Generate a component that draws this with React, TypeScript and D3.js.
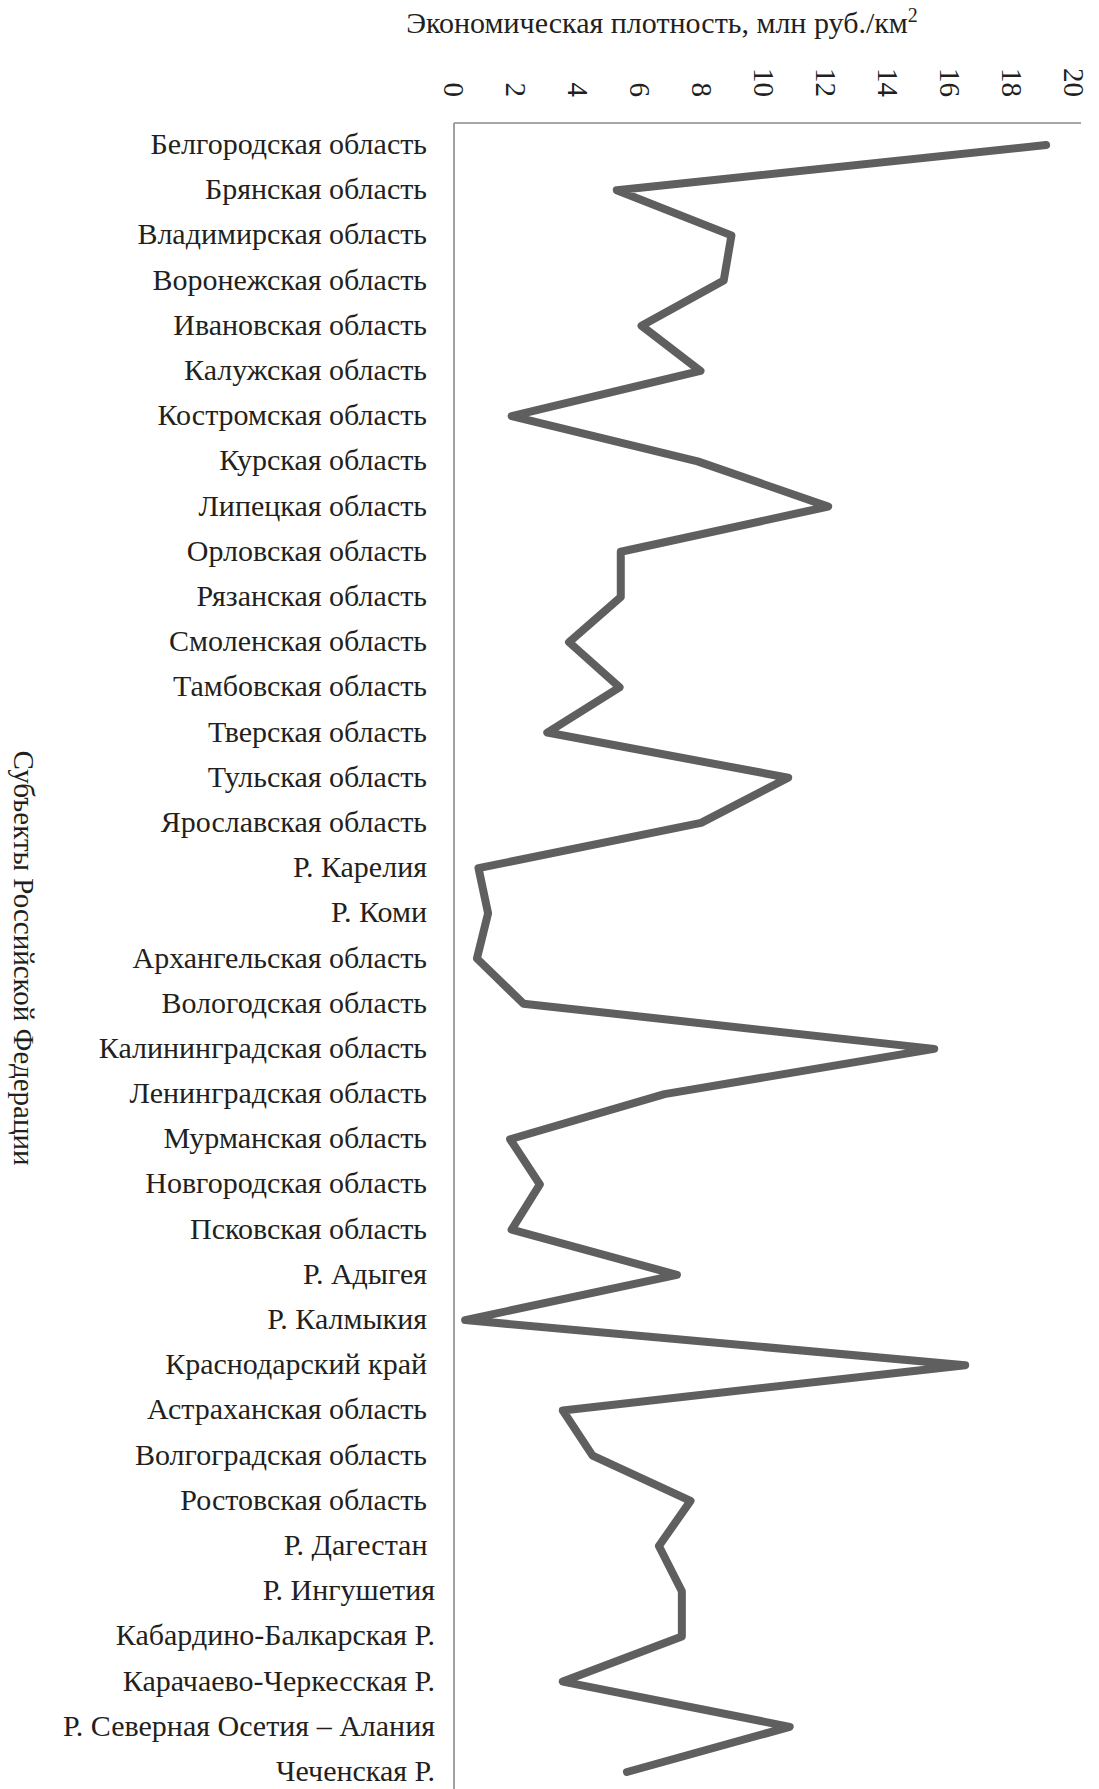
import React from "react";
import * as d3 from "d3";

const categories = [
  "Белгородская область",
  "Брянская область",
  "Владимирская область",
  "Воронежская область",
  "Ивановская область",
  "Калужская область",
  "Костромская область",
  "Курская область",
  "Липецкая область",
  "Орловская область",
  "Рязанская область",
  "Смоленская область",
  "Тамбовская область",
  "Тверская область",
  "Тульская область",
  "Ярославская область",
  "Р. Карелия",
  "Р. Коми",
  "Архангельская область",
  "Вологодская область",
  "Калининградская область",
  "Ленинградская область",
  "Мурманская область",
  "Новгородская область",
  "Псковская область",
  "Р. Адыгея",
  "Р. Калмыкия",
  "Краснодарский край",
  "Астраханская область",
  "Волгоградская область",
  "Ростовская область",
  "Р. Дагестан ",
  "Р. Ингушетия",
  "Кабардино-Балкарская Р.",
  "Карачаево-Черкесская Р.",
  "Р. Северная Осетия – Алания",
  "Чеченская Р.",
];

const values = [
  19.1, 5.25, 8.95, 8.7, 6.05, 7.95, 1.86, 7.86, 12.07, 5.38, 5.38, 3.71, 5.34,
  3.01, 10.78, 7.97, 0.79, 1.1, 0.74, 2.24, 15.49, 6.79, 1.81, 2.77, 1.86, 7.19,
  0.36, 16.49, 3.51, 4.47, 7.63, 6.61, 7.35, 7.35, 3.51, 10.83, 5.58,
];

const xTicks = [0, 2, 4, 6, 8, 10, 12, 14, 16, 18, 20];

const xTitle = "Экономическая плотность, млн руб./км";
const yTitle = "Субъекты Российской Федерации";

const W = 1099;
const H = 1789;
const FONT = "'Liberation Serif', 'Times New Roman', serif";
const TEXT = "#231f20";

export default function App() {
  const x = d3.scaleLinear().domain([0, 20]).range([454, 1074]);
  const y = d3.scalePoint<string>().domain(categories).range([145, 1772]);
  const line = d3
    .line<number>()
    .x((d) => x(d))
    .y((_, i) => y(categories[i]) as number);

  const axisTop = 123;

  return (
    <svg
      width={W}
      height={H}
      style={{ position: "absolute", left: 0, top: 0, background: "#fff" }}
      fontFamily={FONT}
    >
      <rect x={0} y={0} width={W} height={H} fill="#fff" />
      <text x={662} y={33} textAnchor="middle" fontSize={30} fill={TEXT}>
        {xTitle}
        <tspan fontSize={20} dy={-11}>2</tspan>
      </text>
      {xTicks.map((t) => (
        <text
          key={t}
          transform={`translate(${x(t)},97) rotate(90)`}
          textAnchor="end"
          dominantBaseline="central"
          fontSize={29}
          fill={TEXT}
        >
          {t}
        </text>
      ))}
      <line x1={x(0)} x2={1081} y1={axisTop} y2={axisTop} stroke="#8a8a8a" strokeWidth={1.6} />
      <line x1={x(0)} x2={x(0)} y1={axisTop} y2={H} stroke="#8a8a8a" strokeWidth={1.6} />
      {categories.map((c, i) => (
        <text
          key={c}
          x={i >= 31 ? 435 : 427}
          y={(y(c) as number) + 9}
          textAnchor="end"
          fontSize={30}
          fill={TEXT}
          style={{ whiteSpace: "pre" }}
        >
          {c}
        </text>
      ))}
      <text
        transform={`translate(24,958) rotate(90)`}
        textAnchor="middle"
        dominantBaseline="central"
        fontSize={29}
        fill={TEXT}
      >
        {yTitle}
      </text>
      <path
        d={line(values) || ""}
        fill="none"
        stroke="#5f5f5f"
        strokeWidth={8}
        strokeLinejoin="round"
        strokeLinecap="round"
      />
    </svg>
  );
}
